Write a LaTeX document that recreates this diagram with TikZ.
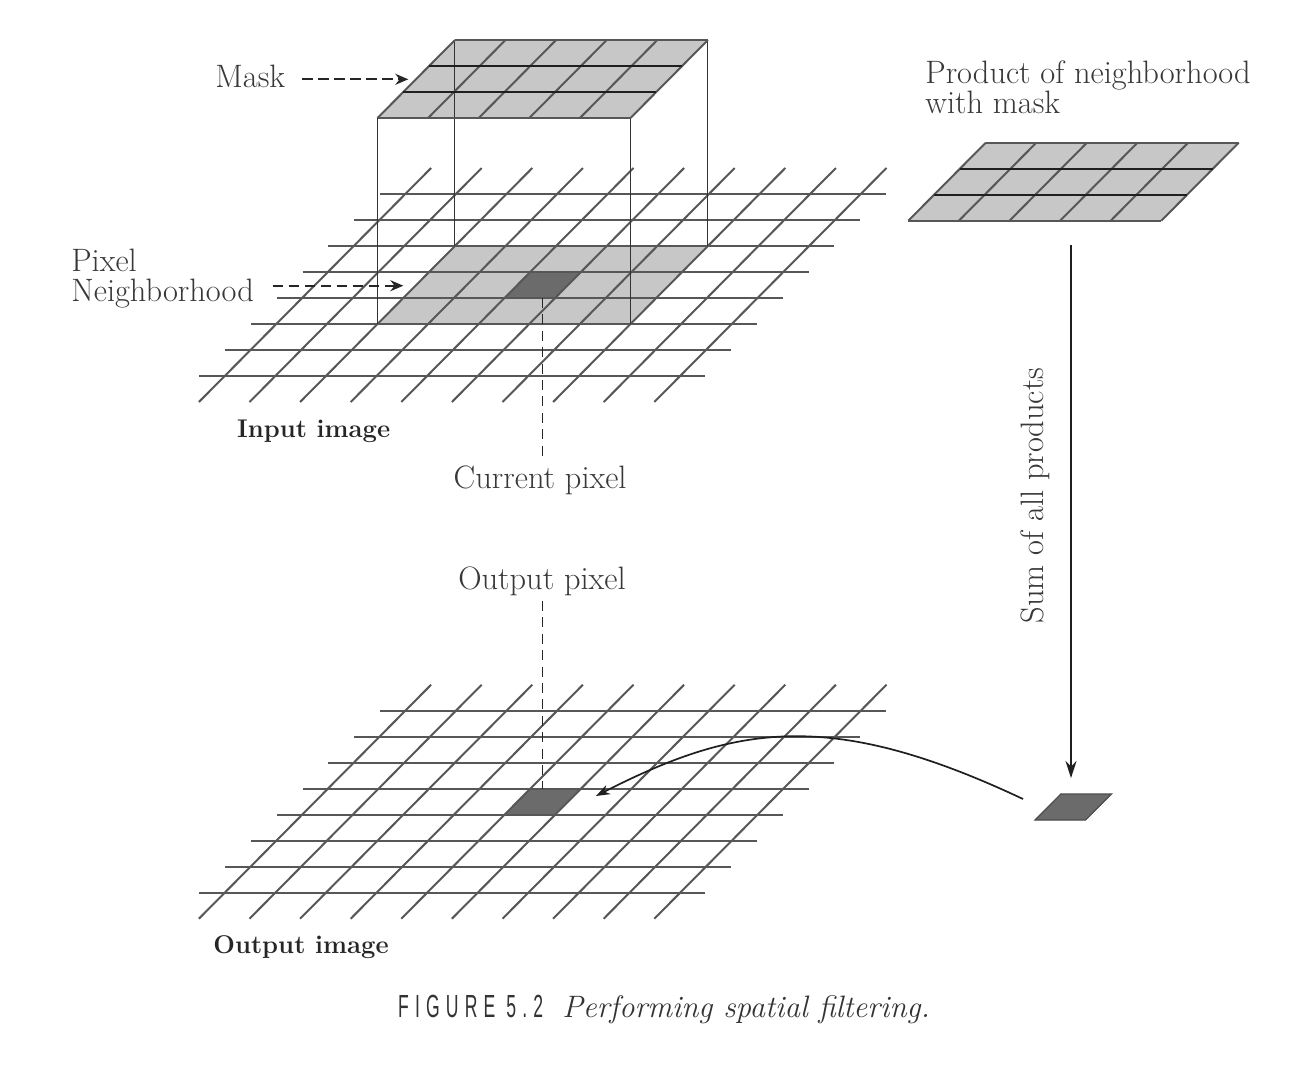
\documentclass[tikz,border=0pt]{standalone}
\usepackage{fontspec}
\usepackage{graphicx}
\usetikzlibrary{arrows.meta}
\newfontfamily\capfont[LetterSpace=35]{Liberation Sans}
\newcommand{\lblsize}{\fontsize{16.2}{15}\selectfont}
\newcommand{\boldlblsize}{\fontsize{12.8}{14}\selectfont\bfseries}
\begin{document}
\begin{tikzpicture}[x=0.5pt,y=-0.5pt,
  skewgrid/.style={x={(25.3pt,0pt)},y={(12.9pt,13pt)}},
  gridline/.style={draw=black!66,line width=1pt},
  darkline/.style={draw=black!88,line width=1.15pt},
  boxline/.style={draw=black!80,line width=0.55pt},
  lightcell/.style={fill=black!22},
  darkcell/.style={fill=black!58},
  lbl/.style={inner sep=0pt,text=black!78,font=\lblsize},
  boldlbl/.style={inner sep=0pt,text=black!85,font=\boldlblsize},
  dasharrow/.style={draw=black!85,line width=0.85pt,dash pattern=on 5.2pt off 2.8pt,-{Stealth[length=6.5pt,width=5.5pt]}},
  dashv/.style={draw=black!85,line width=0.7pt,dash pattern=on 5pt off 3.2pt},
  solidarrow/.style={draw=black!88,line width=0.95pt,-{Stealth[length=8.5pt,width=5.5pt]}},
  curvearrow/.style={draw=black!88,line width=0.85pt,-{Stealth[length=7pt,width=5pt]}}
]
\useasboundingbox (0,0) rectangle (1304,1072);
\fill[white] (0,0) rectangle (1304,1072);

% ---------- input image grid ----------
\begin{scope}[shift={(224.7,376)},skewgrid]
  \coordinate (nbA) at (2,2);
  \coordinate (nbB) at (7,2);
  \coordinate (nbC) at (7,5);
  \coordinate (nbD) at (2,5);
  \coordinate (cpb) at (4.755,3);
  \path[lightcell] (nbA) -- (nbB) -- (nbC) -- (nbD) -- cycle;
  \path[darkcell] (4,3) -- (5,3) -- (5,4) -- (4,4) -- cycle;
  \foreach \j in {0,...,7} \draw[gridline] (-0.5,\j) -- (9.5,\j);
  \foreach \i in {0,...,9} \draw[gridline] (\i,-1) -- (\i,8);
\end{scope}

% ---------- mask ----------
\begin{scope}[shift={(224.7,170)},skewgrid]
  \coordinate (mkA) at (2,2);
  \coordinate (mkB) at (7,2);
  \coordinate (mkC) at (7,5);
  \coordinate (mkD) at (2,5);
  \path[lightcell] (mkA) -- (mkB) -- (mkC) -- (mkD) -- cycle;
\end{scope}
\draw[boxline] (mkA) -- (nbA) (mkB) -- (nbB) (mkC) -- (nbC) (mkD) -- (nbD);
\begin{scope}[shift={(224.7,170)},skewgrid]
  \foreach \i in {2,...,7} \draw[gridline] (\i,2) -- (\i,5);
  \draw[gridline] (2,2) -- (7,2) (2,5) -- (7,5);
  \draw[darkline] (2,3) -- (7,3) (2,4) -- (7,4);
\end{scope}

% ---------- product grid ----------
\begin{scope}[shift={(755.5,272.7)},skewgrid]
  \path[lightcell] (2,2) -- (7,2) -- (7,5) -- (2,5) -- cycle;
  \foreach \i in {2,...,7} \draw[gridline] (\i,2) -- (\i,5);
  \draw[gridline] (2,2) -- (7,2) (2,5) -- (7,5);
  \draw[darkline] (2,3) -- (7,3) (2,4) -- (7,4);
\end{scope}

% ---------- single result pixel ----------
\begin{scope}[shift={(1035,820)},skewgrid]
  \path[darkcell,draw=black!70,line width=0.6pt] (0,0) -- (1,0) -- (1,1) -- (0,1) -- cycle;
\end{scope}

% ---------- output image grid ----------
\begin{scope}[shift={(224.7,892.7)},skewgrid]
  \coordinate (opt) at (4.245,4);
  \coordinate (ce) at (5.44,3.72);
  \path[darkcell] (4,3) -- (5,3) -- (5,4) -- (4,4) -- cycle;
  \foreach \j in {0,...,7} \draw[gridline] (-0.5,\j) -- (9.5,\j);
  \foreach \i in {0,...,9} \draw[gridline] (\i,-1) -- (\i,8);
\end{scope}

% ---------- labels ----------
\node[lbl,anchor=base west] (masklbl) at (215,87.3) {Mask};
\node[lbl,anchor=north west,align=left] (pnlbl) at (71,248.2) {Pixel\\Neighborhood};
\node[lbl,anchor=north west,align=left] (prodlbl) at (925,60.8) {Product of neighborhood\\with mask};
\node[boldlbl,anchor=base west] (inlbl) at (236.7,437.3) {Input image};
\node[boldlbl,anchor=base west] (outimglbl) at (213,953) {Output image};
\node[lbl,anchor=base west] (curlbl) at (453.3,488.3) {Current pixel};
\node[lbl,anchor=base] (outlbl) at (542,589) {Output pixel};
\node[lbl,rotate=90,anchor=base] (sumlbl) at (1043,495.5) {Sum of all products};

% ---------- connectors ----------
\coordinate (maskarr) at (408.3,79.3);
\coordinate (nbarr) at (403.3,285.7);
\draw[dasharrow] ([xshift=8.3pt]masklbl.east |- maskarr) -- (maskarr);
\draw[dasharrow] ([xshift=9.3pt]pnlbl.east |- nbarr) -- (nbarr);
\draw[dashv,shorten >=2.75pt] (cpb) -- (cpb |- curlbl.north);
\draw[dashv,shorten <=2.6pt] (opt |- outlbl.south) -- (opt);

\coordinate (sumS) at (1071,245);
\coordinate (sumE) at (1071,778);
\draw[solidarrow] (sumS) -- (sumE);

\coordinate (cs) at (1023,799);
\draw[curvearrow] (cs) .. controls (830,708) and (735,725) .. (ce);

% ---------- caption ----------
\node[inner sep=0pt,anchor=base west,text=black!80] (figno) at (397.7,1017)
  {\scalebox{0.55}[1]{\fontsize{16}{16}\selectfont\capfont FIGURE 5.2}};
\node[inner sep=0pt,anchor=base west,text=black!80,font=\fontsize{15.5}{15}\selectfont\itshape] (figcap) at (562,1017)
  {Performing spatial filtering.};
\end{tikzpicture}
\end{document}
